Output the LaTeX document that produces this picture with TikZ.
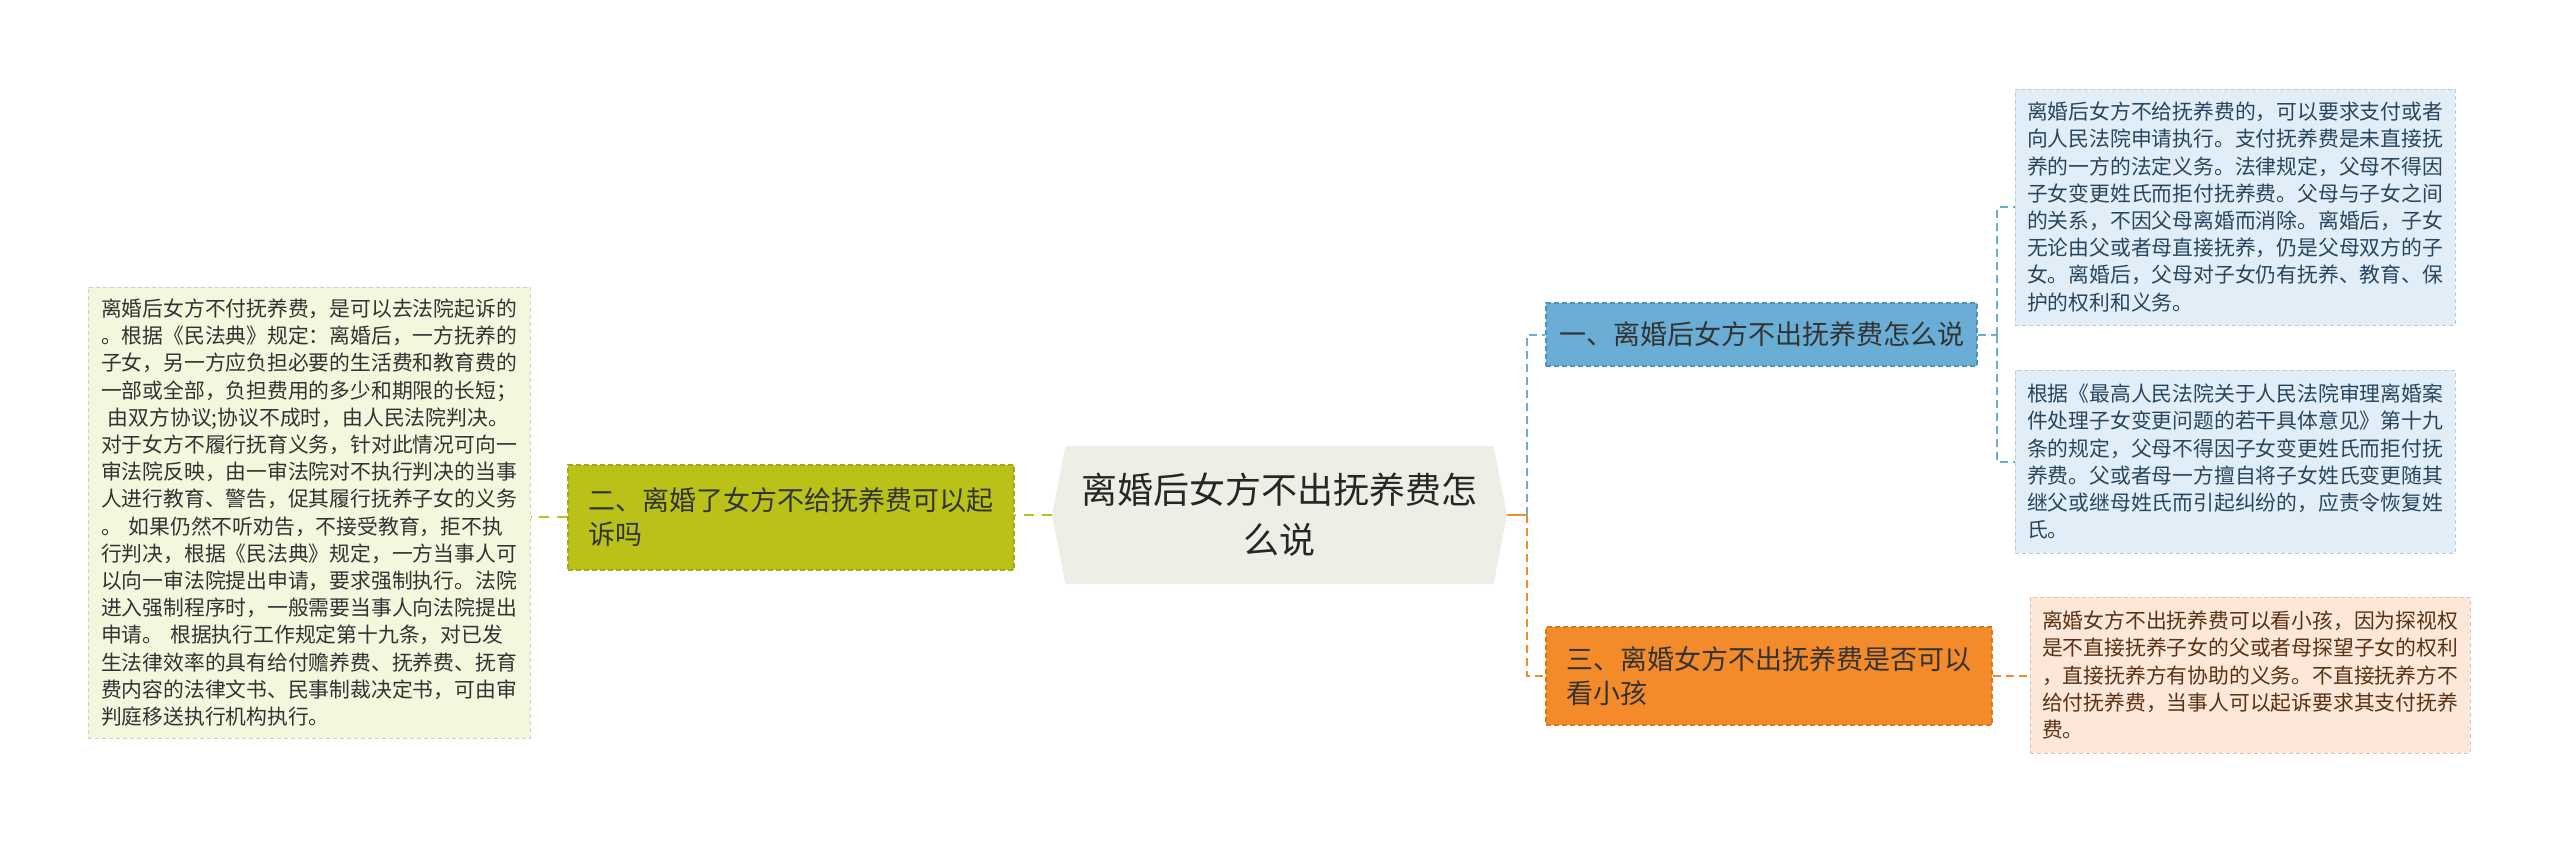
\documentclass[tikz,border=0pt]{standalone}
\usepackage{fontspec}
\usepackage{tikz}
\usetikzlibrary{shapes.symbols}
\newfontfamily\cjk{Noto Sans CJK SC}

\definecolor{rootfill}{RGB}{238,238,230}
\definecolor{olive}{RGB}{186,194,26}
\definecolor{oliveline}{RGB}{160,170,20}
\definecolor{olivenote}{RGB}{245,246,222}
\definecolor{sky}{RGB}{106,174,213}
\definecolor{skyline}{RGB}{80,145,190}
\definecolor{skynote}{RGB}{226,238,247}
\definecolor{skytext}{RGB}{40,70,95}
\definecolor{amber}{RGB}{243,139,43}
\definecolor{amberline}{RGB}{225,118,25}
\definecolor{ambernote}{RGB}{253,231,216}
\definecolor{ambertext}{RGB}{90,50,20}

\begin{document}
\begin{tikzpicture}[
	x=0.5pt, y=-0.5pt,
	every node/.style={font=\cjk, inner sep=0pt},
	topic/.style={
		fill=#1, draw=#1line, line width=1pt,
		dash pattern=on 2.5pt off 1.5pt,
		align=left, text=black!80, text width=202.5pt,
		font=\cjk\fontsize{13.5pt}{17pt}\selectfont
	},
	note/.style={
		fill=#1note, draw=#1note!85!black, line width=0.5pt,
		dash pattern=on 2pt off 1.5pt,
		align=left, text width=208pt,
		font=\cjk\fontsize{10.4pt}{13.6pt}\selectfont
	},
	link/.style={draw=#1, line width=1pt, dash pattern=on 4pt off 2.5pt}
	]
	% Canvas
	\fill[white] (0,0) rectangle (2560,843);
	\useasboundingbox (0,0) rectangle (2560,843);
	
	% Root
	\node[shape=signal, signal to=west and east, signal pointer angle=158,
		fill=rootfill, minimum width=227.5pt, minimum height=69pt,
		align=center, text width=200pt, text=black!85,
		font=\cjk\fontsize{18pt}{25pt}\selectfont]
		(root) at (1279.5,515) {离婚后女方不出抚养费怎\\么说};
	
	% Topics
	\node[topic=olive, minimum width=223pt, minimum height=52.5pt]
		(q2) at (791,517) {二、离婚了女方不给抚养费可以起\\诉吗};
	\node[topic=sky, minimum width=215.5pt, minimum height=31.5pt]
		(q1) at (1761.5,334.5) {一、离婚后女方不出抚养费怎么说};
	\node[topic=amber, minimum width=223pt, minimum height=49pt]
		(q3) at (1769,676) {三、离婚女方不出抚养费是否可以\\看小孩};
	
	% Notes
	\node[note=olive, text=black!80, minimum width=221pt, minimum height=225.5pt]
		(q2note) at (309,512.5) {离婚后女方不付抚养费，是可以去法院起诉的\\
		。根据《民法典》规定：离婚后，一方抚养的\\
		子女，另一方应负担必要的生活费和教育费的\\
		一部或全部，负担费用的多少和期限的长短；\\
		\ 由双方协议;协议不成时，由人民法院判决。\\
		对于女方不履行抚育义务，针对此情况可向一\\
		审法院反映，由一审法院对不执行判决的当事\\
		人进行教育、警告，促其履行抚养子女的义务\\
		。 如果仍然不听劝告，不接受教育，拒不执\\
		行判决，根据《民法典》规定，一方当事人可\\
		以向一审法院提出申请，要求强制执行。法院\\
		进入强制程序时，一般需要当事人向法院提出\\
		申请。 根据执行工作规定第十九条，对已发\\
		生法律效率的具有给付赡养费、抚养费、抚育\\
		费内容的法律文书、民事制裁决定书，可由审\\
		判庭移送执行机构执行。};
	\node[note=sky, text=skytext, minimum width=220pt, minimum height=118pt]
		(q1a) at (2235,207) {离婚后女方不给抚养费的，可以要求支付或者\\
		向人民法院申请执行。支付抚养费是未直接抚\\
		养的一方的法定义务。法律规定，父母不得因\\
		子女变更姓氏而拒付抚养费。父母与子女之间\\
		的关系，不因父母离婚而消除。离婚后，子女\\
		无论由父或者母直接抚养，仍是父母双方的子\\
		女。离婚后，父母对子女仍有抚养、教育、保\\
		护的权利和义务。};
	\node[note=sky, text=skytext, minimum width=220pt, minimum height=91.5pt]
		(q1b) at (2235,461.5) {根据《最高人民法院关于人民法院审理离婚案\\
		件处理子女变更问题的若干具体意见》第十九\\
		条的规定，父母不得因子女变更姓氏而拒付抚\\
		养费。父或者母一方擅自将子女姓氏变更随其\\
		继父或继母姓氏而引起纠纷的，应责令恢复姓\\
		氏。};
	\node[note=amber, text=ambertext, minimum width=220pt, minimum height=78pt]
		(q3note) at (2250,675) {离婚女方不出抚养费可以看小孩，因为探视权\\
		是不直接抚养子女的父或者母探望子女的权利\\
		，直接抚养方有协助的义务。不直接抚养方不\\
		给付抚养费，当事人可以起诉要求其支付抚养\\
		费。};
	
	% Links
	\coordinate (fork) at (1527,515);
	\coordinate (fork1) at (1997,334.5);
	\draw[link=olive, dash pattern=on 5pt off 4pt] (root.west) -- (root.west -| q2.east);
	\draw[link=olive, dash pattern=on 5pt off 4pt] (q2.west) -- (q2.west -| q2note.east);
	\draw[amber, line width=1pt] (root.east) -- (fork);
	\draw[link=sky] (fork) |- (q1.west);
	\draw[link=amber] (fork) |- (q3.west);
	\draw[link=sky] (q1.east) -- (fork1);
	\draw[link=sky] (fork1) |- (q1a.west);
	\draw[link=sky] (fork1) |- (q1b.west);
	\draw[link=amber] (q3.east) -- (q3.east -| q3note.west);
\end{tikzpicture}
\end{document}
